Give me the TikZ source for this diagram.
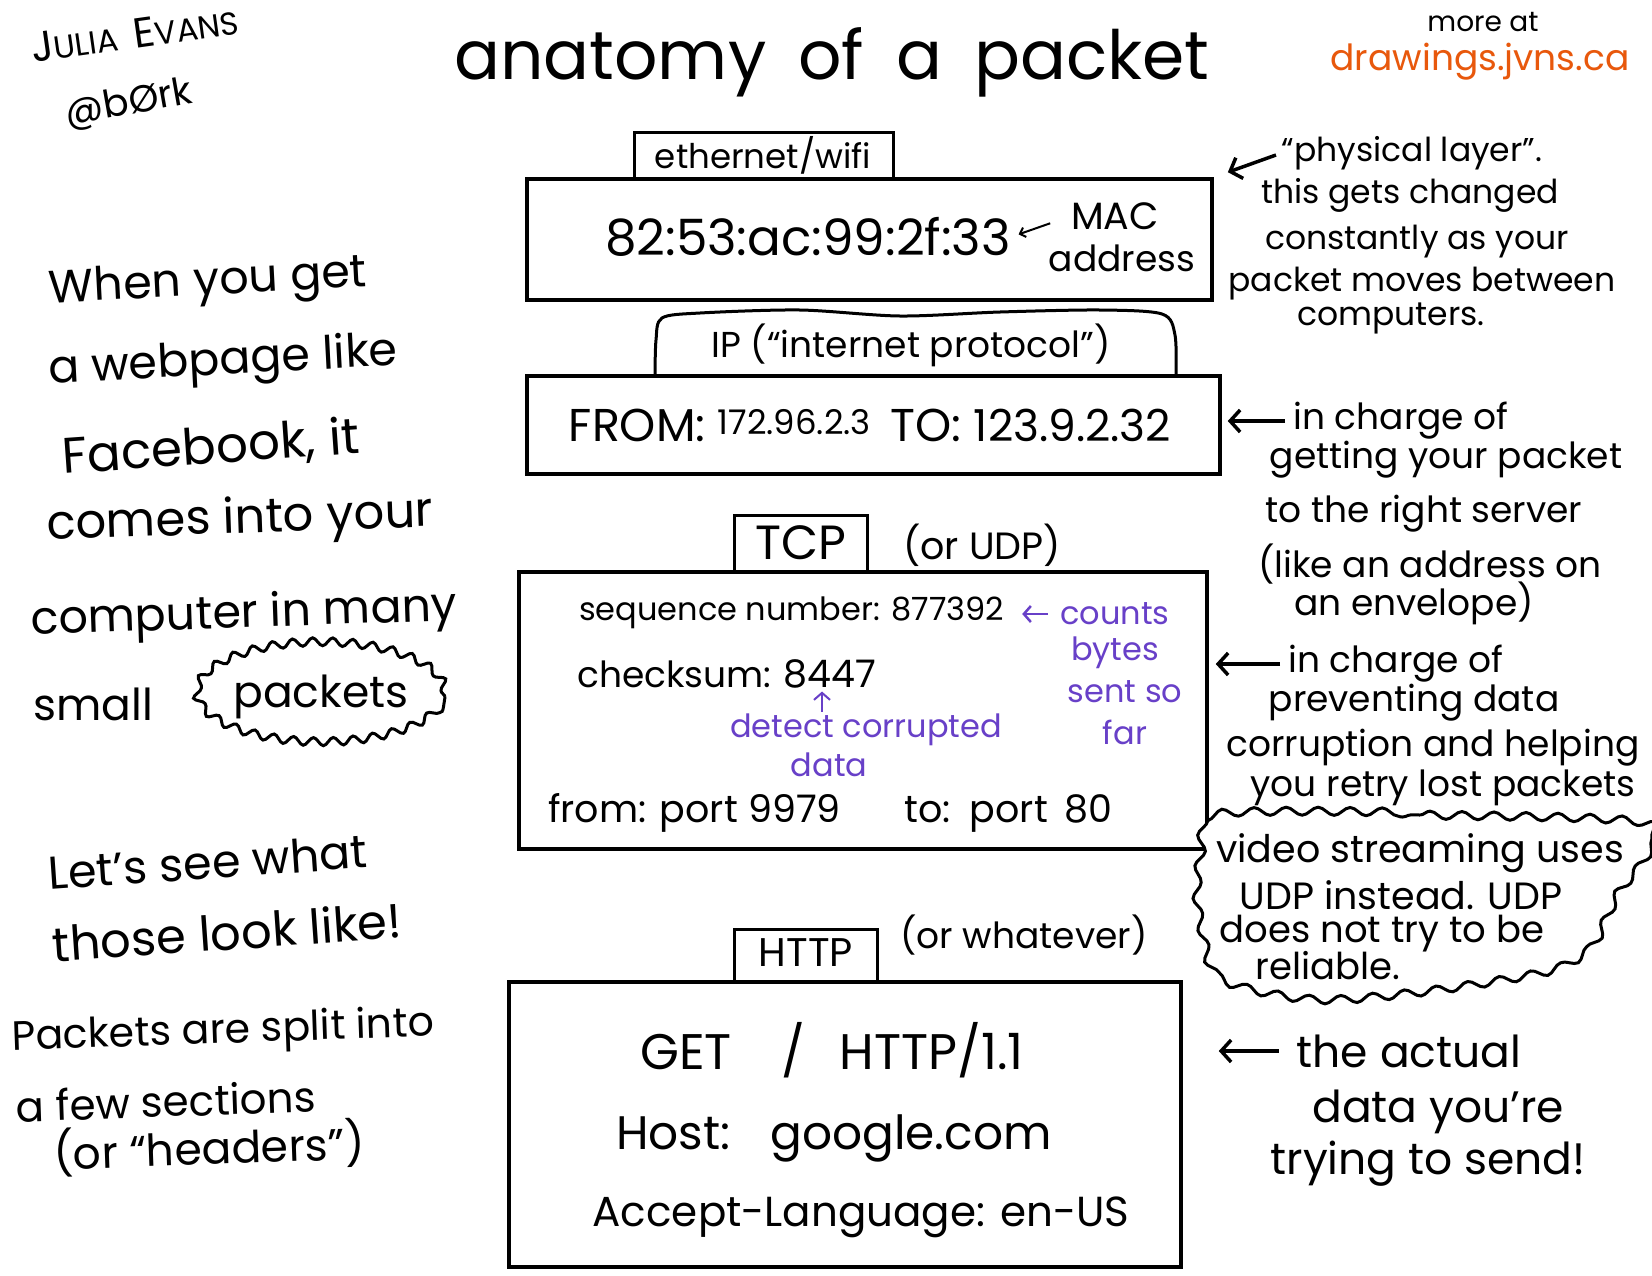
\documentclass[tikz,border=0pt]{standalone}
\usepackage{fontspec}
\setmainfont{Poppins}
\usetikzlibrary{arrows.meta,decorations.pathmorphing}
\definecolor{orng}{RGB}{232,88,12}
\definecolor{purp}{RGB}{104,64,200}
\newcommand\FS[1]{\fontsize{#1}{#1}\selectfont}
\begin{document}
\begin{tikzpicture}[x=1pt,y=-1pt,
  txt/.style={inner sep=0pt},
  boxs/.style={draw, line width=3.5pt, fill=white, inner sep=0pt},
  tabs/.style={draw, line width=3pt, fill=white, inner sep=0pt},
  arr/.style={line width=3.5pt, -{Straight Barb[length=10pt,width=22pt]}},
  parr/.style={purp, line width=2.5pt, -{Straight Barb[length=7pt,width=16pt]}},
  sarr/.style={line width=2pt, -{Straight Barb[length=5pt,width=10pt]}},
  ptxt/.style={inner sep=0pt, text=purp}]
\fill[white] (0,0) rectangle (1652,1275);
\useasboundingbox (0,0) rectangle (1652,1275);

% header
\node[txt] (title) at (832,62) {\FS{68}anatomy\hspace{14pt} of\hspace{14pt} a\hspace{14pt} packet};
\node[txt, rotate=8] (author) at (135,34) {{\FS{42}J}{\FS{32}ULIA}\hspace{16pt}{\FS{42}E}{\FS{32}VANS}};
\node[txt, rotate=10] (handle) at (129,104) {\FS{38}@bØrk};
\node[txt] (more) at (1483,22) {\FS{28}more at};
\node[txt, text=orng] (site) at (1480,62) {\FS{36}drawings.jvns.ca};

% ethernet layer
\node[tabs, minimum width=259pt, minimum height=53pt] (ethtab) at (763.5,158.5) {};
\node[boxs, minimum width=685pt, minimum height=121pt] (eth) at (869.5,239.5) {};
\node[txt] (ethlbl) at (763,155) {\FS{34}ethernet/wifi};
\node[txt] (mac) at (808,237) {\FS{50}82:53:ac:99:2f:33};
\node[txt] (mac1) at (1115,216) {\FS{38}MAC};
\node[txt] (mac2) at (1122,258) {\FS{36}address};
\draw[sarr, shorten <=22pt, shorten >=8pt] (mac1.west) -- (mac.east);

\node[txt] (phys1) at (1412,153) {\FS{33}“physical layer”.};
\node[txt] (phys2) at (1410,195) {\FS{33}this gets changed};
\node[txt] (phys3) at (1417,242) {\FS{33}constantly as your};
\node[txt] (phys4) at (1422,284) {\FS{33}packet moves between};
\node[txt] (phys5) at (1391,318) {\FS{33}computers.};
\draw[arr, shorten <=6pt, shorten >=15pt] (phys1.west) -- (eth.north east);

% IP layer
\draw[line width=3pt, fill=white] plot[smooth] coordinates {(655,380) (656,340) (662,318) (700,313) (800,310) (900,316) (1000,312) (1100,310) (1162,314) (1175,335) (1176,380)};
\node[txt] (iplbl) at (911,345) {\FS{36}IP (“internet protocol”)};
\node[boxs, minimum width=693pt, minimum height=98pt] (ip) at (873.5,425) {};
\node[txt] (ipaddr) at (870,425) {\FS{46}FROM: \raisebox{7pt}{\FS{34}172.96.2.3}\hspace{20pt}TO: {\FS{44}123.9.2.32}};

\node[txt] (ipn1) at (1401,421) {\FS{36}in charge of};
\node[txt] (ipn2) at (1446,460) {\FS{36}getting your packet};
\node[txt] (ipn3) at (1424,514) {\FS{36}to the right server};
\node[txt] (ipn4) at (1430,564) {\FS{36}(like an address on};
\node[txt] (ipn5) at (1414,603) {\FS{36}an envelope)};
\draw[arr, shorten <=8pt, shorten >=6pt] (ipn1.west) -- (ipn1.west -| ip.east);

% TCP layer
\node[tabs, minimum width=133pt, minimum height=59pt] (tcptab) at (800.5,545) {};
\node[boxs, minimum width=688pt, minimum height=277pt] (tcp) at (863,710.5) {};
\node[txt] (tcplbl) at (801,543) {\FS{48}TCP};
\node[txt] (orudp) at (982,545) {\FS{38}(or UDP)};
\node[txt, anchor=west] (seq) at (579,613) {\FS{32}sequence number: 877392};
\node[ptxt] (cnt1) at (1115,614) {\FS{32}counts};
\node[ptxt] (cnt2) at (1115,653) {\FS{32}bytes};
\node[ptxt] (cnt3) at (1125,692) {\FS{32}sent so};
\node[ptxt] (cnt4) at (1125,732) {\FS{32}far};
\draw[parr] ([xshift=-12pt]cnt1.west) -- ([xshift=-38pt]cnt1.west);
\node[txt, anchor=west] (chk) at (577,674) {\FS{36}checksum:};
\node[txt] (chkval) at (830,674) {\FS{38}8447};
\node[ptxt] (det1) at (866,730) {\FS{32}detect corrupted};
\node[ptxt] (det2) at (829,765) {\FS{32}data};
\draw[parr, line width=2pt, shorten <=2pt, shorten >=3pt] ([xshift=-8pt]chkval.south |- det1.north) -- ([xshift=-8pt]chkval.south);
\node[txt, anchor=west] (from) at (548,813) {\FS{38}from: port 9979};
\node[txt, anchor=west] (to) at (904,813) {\FS{38}to:\hspace{6pt} port\hspace{6pt} 80};

% UDP cloud (drawn before the TCP note so the note stays on top)
\draw[line width=3pt, fill=white, decorate, decoration={snake, amplitude=4pt, segment length=32pt}]
  plot[smooth cycle] coordinates {(1215,816) (1420,815) (1634,822) (1642,854) (1616,889) (1600,922) (1585,948) (1542,970) (1420,990) (1310,998) (1218,978) (1199,932) (1193,890) (1199,844)};
\node[txt] (udp1) at (1420,853) {\FS{38}video streaming uses};
\node[txt] (udp2) at (1401,895) {\FS{38}UDP instead. UDP};
\node[txt] (udp3) at (1382,934) {\FS{37}does not try to be};
\node[txt] (udp4) at (1328,966) {\FS{37}reliable.};

\node[txt] (tcpn1) at (1396,664) {\FS{36}in charge of};
\node[txt] (tcpn2) at (1414,703) {\FS{36}preventing data};
\node[txt] (tcpn3) at (1433,748) {\FS{36}corruption and helping};
\node[txt] (tcpn4) at (1443,788) {\FS{36}you retry lost packets};
\draw[arr, shorten <=8pt, shorten >=7pt] (tcpn1.west) -- (tcpn1.west -| tcp.east);

% HTTP layer
\node[tabs, minimum width=143pt, minimum height=59pt] (httptab) at (805.5,958.5) {};
\node[boxs, minimum width=672pt, minimum height=285pt] (http) at (845,1124.5) {};
\node[txt] (httplbl) at (806,953) {\FS{40}HTTP};
\node[txt] (orwhat) at (1024,935) {\FS{36}(or whatever)};
\node[txt] (get) at (832,1050) {\FS{50}GET\hspace{50pt}/\hspace{34pt}HTTP/1.1};
\node[txt] (host) at (834,1138) {\FS{47}Host:\hspace{40pt}google.com};
\node[txt] (accept) at (861,1217) {\FS{42}Accept-Language: en-US};

\node[txt] (httpn1) at (1409,1051) {\FS{44}the actual};
\node[txt] (httpn2) at (1438,1112) {\FS{44}data you’re};
\node[txt] (httpn3) at (1428,1164) {\FS{44}trying to send!};
\draw[arr, shorten <=18pt, shorten >=36pt] (httpn1.west) -- (httpn1.west -| http.east);

% left text
\node[txt, rotate=3] (l1) at (208,284) {\FS{46}When you get};
\node[txt, rotate=3] (l2) at (223,363) {\FS{46}a webpage like};
\node[txt, rotate=4] (l3) at (211,448) {\FS{50}Facebook, it};
\node[txt, rotate=2] (l4) at (240,521) {\FS{48}comes into your};
\node[txt, rotate=2] (l5) at (244,616) {\FS{46}computer in many};
\node[txt] (l6) at (93,704) {\FS{44}small};
\node[txt] (pk) at (321,697) {\FS{44}packets};
\draw[line width=3pt, decorate, decoration={snake, amplitude=4pt, segment length=20pt}]
  (pk.center) ellipse [x radius=124pt, y radius=50pt];
\node[txt, rotate=4] (s1) at (208,862) {\FS{46}Let’s see what};
\node[txt, rotate=4] (s2) at (227,932) {\FS{48}those look like!};
\node[txt, rotate=2] (p1) at (223,1033) {\FS{41}Packets are split into};
\node[txt, rotate=2] (p2) at (166,1101) {\FS{42}a few sections};
\node[txt, rotate=2] (p3) at (209,1148) {\FS{44}(or “headers”)};
\end{tikzpicture}
\end{document}
